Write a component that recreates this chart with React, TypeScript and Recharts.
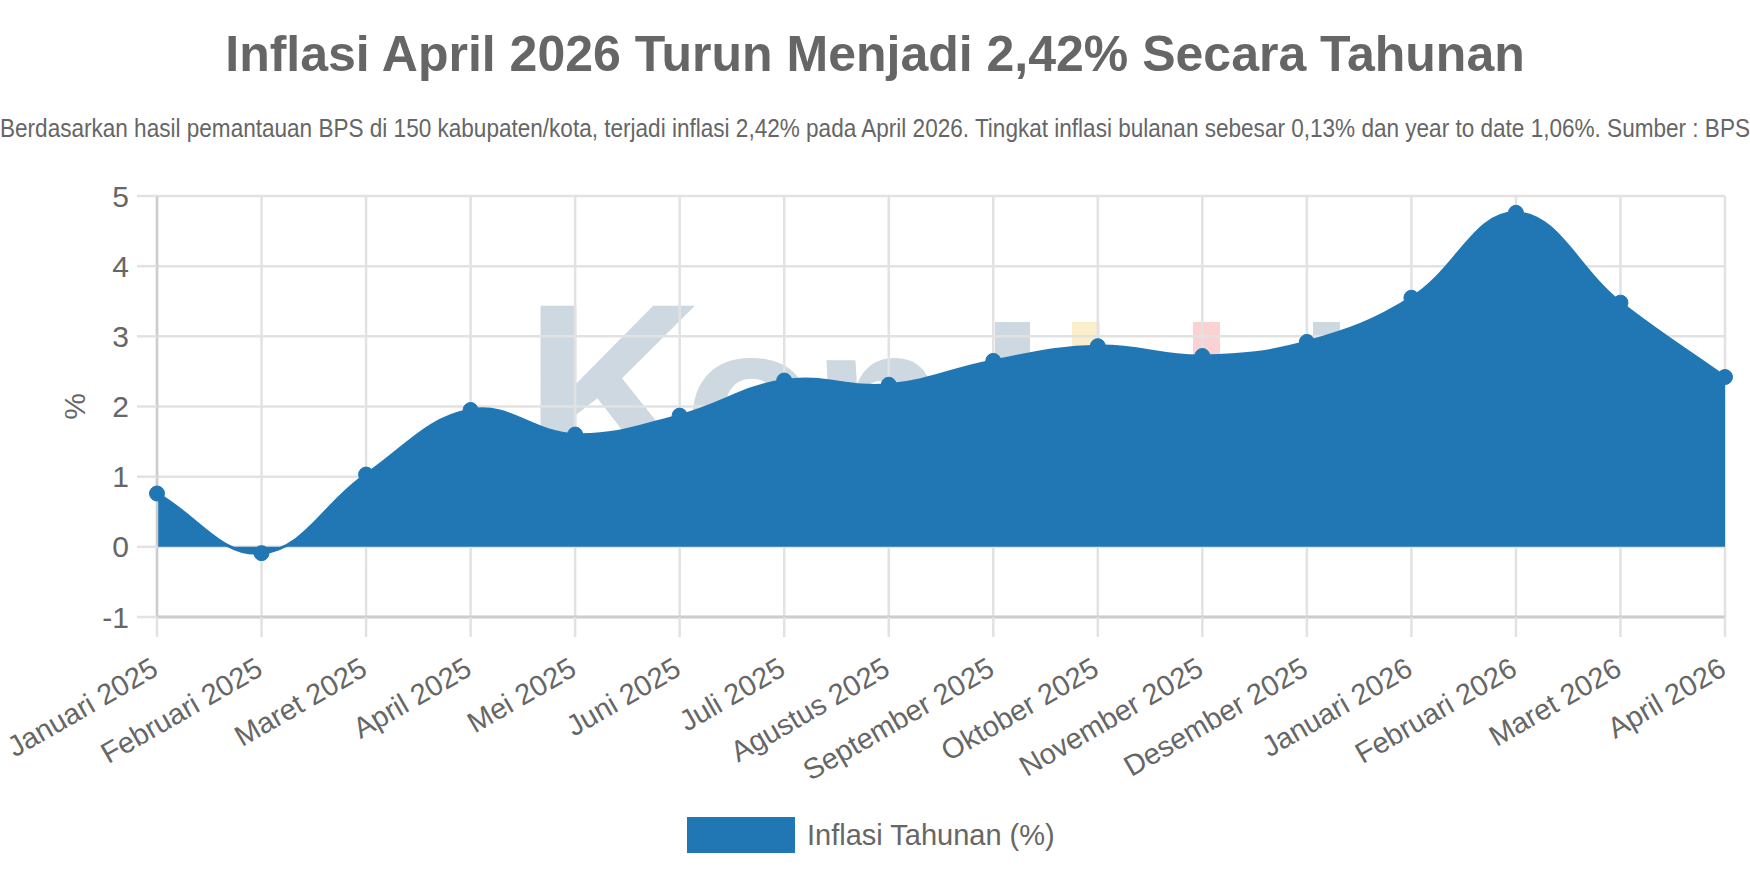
import { AreaChart, Area, XAxis, YAxis, CartesianGrid, Legend } from "recharts";

const months = [
  "Januari 2025",
  "Februari 2025",
  "Maret 2025",
  "April 2025",
  "Mei 2025",
  "Juni 2025",
  "Juli 2025",
  "Agustus 2025",
  "September 2025",
  "Oktober 2025",
  "November 2025",
  "Desember 2025",
  "Januari 2026",
  "Februari 2026",
  "Maret 2026",
  "April 2026",
];
const inflasi = [0.76, -0.09, 1.03, 1.95, 1.6, 1.87, 2.37, 2.31, 2.65, 2.86, 2.72, 2.92, 3.55, 4.76, 3.48, 2.42];
const yTicks = [-1, 0, 1, 2, 3, 4, 5];

const TITLE = "Inflasi April 2026 Turun Menjadi 2,42% Secara Tahunan";
const SUBTITLE =
  "Berdasarkan hasil pemantauan BPS di 150 kabupaten/kota, terjadi inflasi 2,42% pada April 2026. Tingkat inflasi bulanan sebesar 0,13% dan year to date 1,06%. Sumber : BPS";
const SERIES_NAME = "Inflasi Tahunan (%)";

const FONT = '"Liberation Sans", Arial, sans-serif';
const TEXT_COLOR = "#666666";
const BLUE = "#2077b4";
const GRID = "#e2e2e2";
const AXIS = "#cdcdcd";

const data = months.map((month, i) => ({ month, value: inflasi[i] }));

// same spline the original line uses (tension 0.4), as a d3-style curve factory
function splineCurve(context: any) {
  let pts: [number, number][] = [];
  let line = NaN;
  const tension = 0.4;
  return {
    areaStart() {
      line = 0;
    },
    areaEnd() {
      line = NaN;
    },
    lineStart() {
      pts = [];
    },
    point(x: number, y: number) {
      pts.push([+x, +y]);
    },
    lineEnd() {
      if (line === 1) {
        // baseline of the area goes back straight
        pts.forEach((p) => context.lineTo(p[0], p[1]));
        context.closePath();
      } else {
        pts.forEach((p, i) => {
          if (i === 0) {
            context.moveTo(p[0], p[1]);
            return;
          }
          const prev = pts[i - 1];
          const c1 = controls(pts[i - 2] || prev, prev, p).next;
          const c2 = controls(prev, p, pts[i + 1] || p).prev;
          context.bezierCurveTo(c1[0], c1[1], c2[0], c2[1], p[0], p[1]);
        });
      }
      line = 1 - line;
    },
  };

  function controls(a: [number, number], b: [number, number], c: [number, number]) {
    const d01 = Math.hypot(b[0] - a[0], b[1] - a[1]);
    const d12 = Math.hypot(c[0] - b[0], c[1] - b[1]);
    const total = d01 + d12 || 1;
    const fa = (tension * d01) / total;
    const fb = (tension * d12) / total;
    return {
      prev: [b[0] - fa * (c[0] - a[0]), b[1] - fa * (c[1] - a[1])],
      next: [b[0] + fb * (c[0] - a[0]), b[1] + fb * (c[1] - a[1])],
    };
  }
}

function MonthTick({ x, y, payload }: any) {
  return (
    <text
      x={x + 3}
      y={y + 35}
      textAnchor="end"
      fontSize={29}
      fontFamily={FONT}
      fill={TEXT_COLOR}
      transform={`rotate(-30 ${x + 3} ${y + 35})`}
    >
      {payload.value}
    </text>
  );
}

function LegendBox() {
  return (
    <div style={{ display: "flex", alignItems: "center", height: 36, fontFamily: FONT, fontSize: 29, color: TEXT_COLOR }}>
      <span style={{ width: 108, height: 36, background: BLUE, marginRight: 12 }} />
      <span style={{ whiteSpace: "nowrap" }}>{SERIES_NAME}</span>
    </div>
  );
}

// faded logo behind the plot, mostly hidden by the area
function Background() {
  return (
    <svg width={1750} height={875} style={{ position: "absolute", left: 0, top: 0 }}>
      <g fontFamily={FONT} fontWeight="bold" fill="#cdd8e0">
        <text x={524} y={477} fontSize={248}>K</text>
        <text x={684} y={477} fontSize={220}>o</text>
        <text x={812} y={477} fontSize={220}>n</text>
      </g>
      <rect x={995} y={322} width={35} height={120} fill="#cdd8e0" />
      <rect x={1072} y={322} width={28} height={60} fill="#fbeecb" />
      <rect x={1193} y={322} width={27} height={60} fill="#fbd2d2" />
      <rect x={1313} y={322} width={27} height={60} fill="#cdd8e0" />
      <text x={875} y={71} textAnchor="middle" fontFamily={FONT} fontWeight="bold" fontSize={50} fill={TEXT_COLOR}>
        {TITLE}
      </text>
      <text
        x={0}
        y={137}
        textLength={1750}
        lengthAdjust="spacingAndGlyphs"
        fontFamily={FONT}
        fontSize={25}
        fill={TEXT_COLOR}
      >
        {SUBTITLE}
      </text>
    </svg>
  );
}

export default function App() {
  return (
    <div style={{ position: "absolute", left: 0, top: 0, width: 1750, height: 875, background: "#fff" }}>
      <Background />
      <div style={{ position: "absolute", left: 0, top: 0 }}>
        <AreaChart width={1750} height={875} data={data} margin={{ top: 196, right: 25, bottom: 0, left: 0 }}>
          <CartesianGrid stroke={GRID} strokeWidth={2.5} />
          <XAxis
            dataKey="month"
            interval={0}
            height={222}
            tick={<MonthTick />}
            tickSize={20}
            tickLine={{ stroke: GRID, strokeWidth: 2.5 }}
            axisLine={{ stroke: AXIS, strokeWidth: 3 }}
          />
          <YAxis
            width={157}
            domain={[-1, 5]}
            ticks={yTicks}
            tickSize={20}
            tickMargin={8}
            tick={{ fontSize: 30, fontFamily: FONT, fill: TEXT_COLOR }}
            tickLine={{ stroke: GRID, strokeWidth: 2.5 }}
            axisLine={{ stroke: AXIS, strokeWidth: 2.5 }}
            label={{
              value: "%",
              angle: -90,
              position: "insideLeft",
              offset: 74,
              style: { fontSize: 30, fontFamily: FONT, fill: TEXT_COLOR, textAnchor: "middle" },
            }}
          />
          <Legend content={<LegendBox />} wrapperStyle={{ left: 687, top: 817, width: "auto", bottom: "auto" }} />
          <Area
            dataKey="value"
            name={SERIES_NAME}
            type={splineCurve as any}
            baseValue={0}
            stroke={BLUE}
            strokeWidth={3}
            fill={BLUE}
            fillOpacity={1}
            dot={{ r: 7.5, fill: BLUE, stroke: BLUE, strokeWidth: 1, fillOpacity: 1 }}
            activeDot={false}
            isAnimationActive={false}
          />
        </AreaChart>
      </div>
    </div>
  );
}
